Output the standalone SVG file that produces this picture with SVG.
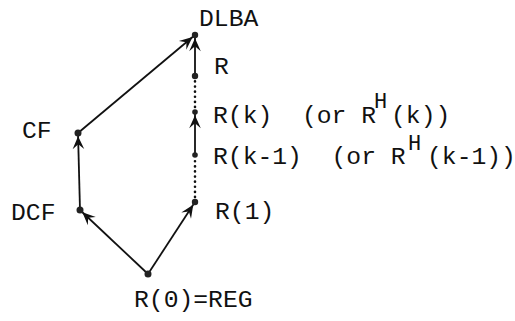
<svg xmlns="http://www.w3.org/2000/svg" width="515" height="321" viewBox="0 0 515 321">
<style>
.lbl{font-family:"Liberation Mono","Courier New",monospace;font-size:24.7px;fill:#111;white-space:pre}
.sup{font-family:"Liberation Mono","Courier New",monospace;font-size:22px;fill:#111}
.e{stroke:#111;stroke-width:1.8;fill:none}
.d{stroke:#111;stroke-width:2.6;fill:none;stroke-dasharray:0.1 5;stroke-linecap:round}
.n{fill:#222}
</style>
<defs>
<marker id="ah" viewBox="-15 -7 19 14" refX="3.2" refY="0" markerWidth="19" markerHeight="14" orient="auto" markerUnits="userSpaceOnUse">
<path d="M0,0 L-13,-5.8 L-8,0 L-13,5.8 Z" fill="#111"/>
</marker>
</defs>
<rect width="515" height="321" fill="#fff"/>
<g id="connectors">
<line class="e" x1="148" y1="274" x2="80" y2="210" marker-end="url(#ah)"/>
<line class="e" x1="80" y1="210" x2="78" y2="133" marker-end="url(#ah)"/>
<line class="e" x1="78" y1="133" x2="195" y2="35" marker-end="url(#ah)"/>
<line class="e" x1="148" y1="274" x2="195" y2="202" marker-end="url(#ah)"/>
<line class="d" x1="195" y1="197" x2="195" y2="159"/>
<line class="e" x1="195" y1="155" x2="195" y2="112" marker-end="url(#ah)"/>
<line class="d" x1="195" y1="107" x2="195" y2="81"/>
<line class="e" x1="195" y1="76" x2="195" y2="35" marker-end="url(#ah)"/>
</g>
<g id="DLBA"><circle class="n" cx="195" cy="35" r="3.2"/><text class="lbl" x="199" y="26">DLBA</text></g>
<g id="R"><circle class="n" cx="195" cy="76" r="3.2"/><text class="lbl" x="214" y="74">R</text></g>
<g id="Rk"><circle class="n" cx="195" cy="112" r="2.8"/><text class="lbl" x="213" y="123" xml:space="preserve">R(k)  (or R</text><text class="sup" x="374" y="108">H</text><text class="lbl" x="391" y="123">(k))</text></g>
<g id="Rk1"><circle class="n" cx="195" cy="155" r="2.8"/><text class="lbl" x="213" y="164" xml:space="preserve">R(k-1)  (or R</text><text class="sup" x="408" y="150">H</text><text class="lbl" x="427" y="164">(k-1))</text></g>
<g id="R1"><circle class="n" cx="195" cy="202" r="3.2"/><text class="lbl" x="215" y="219">R(1)</text></g>
<g id="CF"><circle class="n" cx="78" cy="133" r="3.5"/><text class="lbl" x="22" y="138">CF</text></g>
<g id="DCF"><circle class="n" cx="80" cy="210" r="3.5"/><text class="lbl" x="11" y="220">DCF</text></g>
<g id="R0"><circle class="n" cx="148" cy="274" r="3.5"/><text class="lbl" x="134" y="307">R(0)=REG</text></g>
</svg>
